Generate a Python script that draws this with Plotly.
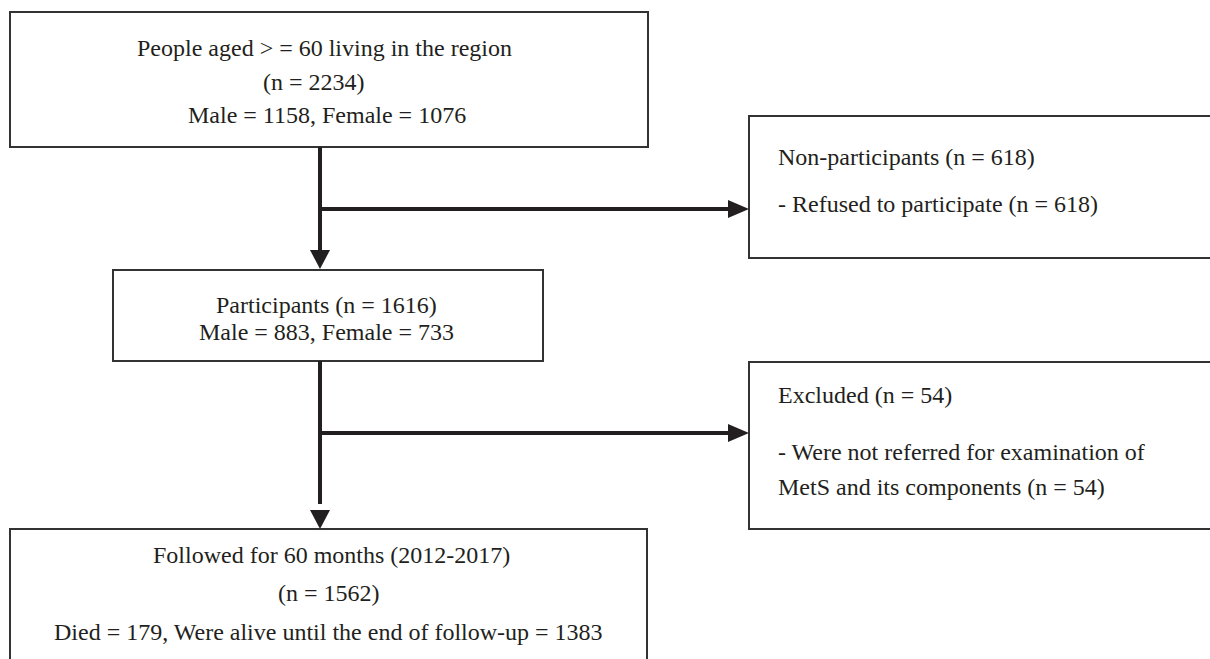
import plotly.graph_objects as go

# ---- data (counts) ----
total_n, total_male, total_female = 2234, 1158, 1076
nonpart_n, refused_n = 618, 618
part_n, part_male, part_female = 1616, 883, 733
excl_n = 54
follow_n, died_n, alive_n = 1562, 179, 1383
follow_months, follow_years = 60, "2012-2017"

box_texts = {
    "top": ["People aged > = 60 living in the region",
            f"(n = {total_n})",
            f"Male = {total_male}, Female = {total_female}"],
    "nonpart": [f"Non-participants (n = {nonpart_n})",
                f"- Refused to participate (n = {refused_n})"],
    "part": [f"Participants (n = {part_n})",
             f"Male = {part_male}, Female = {part_female}"],
    "excl": [f"Excluded (n = {excl_n})",
             "- Were not referred for examination of",
             f"MetS and its components (n = {excl_n})"],
    "follow": [f"Followed for {follow_months} months ({follow_years})",
               f"(n = {follow_n})",
               f"Died = {died_n}, Were alive until the end of follow-up = {alive_n}"],
}

# ---- layout geometry (pixels, y downward) ----
boxes = {
    "top": (10, 12, 648, 147),
    "nonpart": (749, 116, 1216, 258),
    "part": (113, 270, 543, 361),
    "excl": (749, 362, 1216, 529),
    "follow": (10, 529, 647, 700),
}
# (anchor, x positions per line, y positions per line)
text_pos = {
    "top": ("center", [324, 314, 327], [48, 82, 115]),
    "nonpart": ("left", [776, 776], [157, 204]),
    "part": ("center", [326, 326], [305, 332]),
    "excl": ("left", [776, 776, 776], [395, 452, 487]),
    "follow": ("center", [331, 329, 328], [555, 593, 632]),
}

TXT = "#231f20"
LINE = "#231f20"
FONT = "Liberation Serif"
FS = 24

fig = go.Figure()
shapes = []
annotations = []
for key, (x0, y0, x1, y1) in boxes.items():
    shapes.append(dict(type="rect", xref="x", yref="y", x0=x0, y0=y0, x1=x1, y1=y1,
                       line=dict(color="#333333", width=2), fillcolor="rgba(0,0,0,0)"))
    align, xs, ys = text_pos[key]
    for line_text, tx, ty in zip(box_texts[key], xs, ys):
        annotations.append(dict(x=tx, y=ty, xref="x", yref="y", text=line_text,
                                showarrow=False, xanchor=align, yanchor="middle",
                                font=dict(family=FONT, size=FS, color=TXT)))

# connectors
cx = 320
segs = [
    (cx, 147, cx, 252),      # top box -> participants
    (cx, 209, 730, 209),     # branch -> non-participants
    (cx, 361, cx, 504),      # participants -> followed
    (cx, 433, 730, 433),     # branch -> excluded
]
for x0, y0, x1, y1 in segs:
    shapes.append(dict(type="line", xref="x", yref="y", x0=x0, y0=y0, x1=x1, y1=y1,
                       line=dict(color=LINE, width=4)))

# arrowheads (triangles)
def tri_down(x, ytip, h=19, w=10):
    return f"M {x-w},{ytip-h} L {x+w},{ytip-h} L {x},{ytip} Z"

def tri_right(xtip, y, h=21, w=9):
    return f"M {xtip-h},{y-w} L {xtip-h},{y+w} L {xtip},{y} Z"

for p in [tri_down(cx, 269), tri_down(cx, 529), tri_right(749, 209), tri_right(749, 433)]:
    shapes.append(dict(type="path", xref="x", yref="y", path=p,
                       fillcolor=LINE, line=dict(color=LINE, width=0)))

fig.update_layout(
    width=1210, height=659,
    margin=dict(l=0, r=0, t=0, b=0),
    paper_bgcolor="white", plot_bgcolor="white",
    xaxis=dict(range=[0, 1210], visible=False, fixedrange=True),
    yaxis=dict(range=[659, 0], visible=False, fixedrange=True),
    shapes=shapes, annotations=annotations,
    showlegend=False,
)

fig.write_html("out.html", config={"displayModeBar": False},
               post_script="document.body.style.margin='0';")
